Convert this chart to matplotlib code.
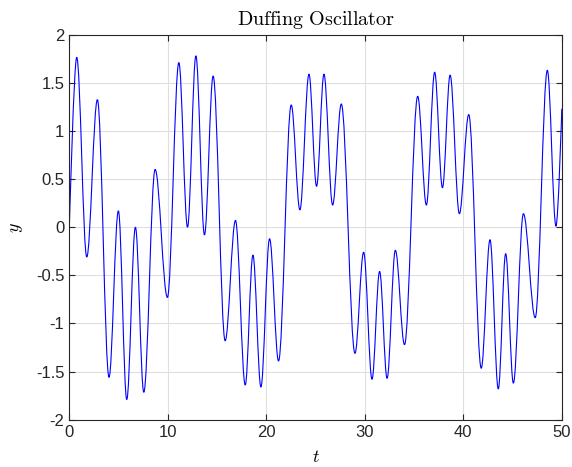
import numpy as np
import matplotlib
matplotlib.use("Agg")
import matplotlib.pyplot as plt
from matplotlib.path import Path
from matplotlib.patches import PathPatch

# ------------------- DATA (turning points) -------------------

t_pts = [0.0, 0.75, 1.77, 2.85, 4.03, 4.98, 5.83, 6.71, 7.56, 8.71,
         9.96, 11.12, 12.0, 12.85, 13.72, 14.6, 15.82, 16.87, 17.86, 18.64,
         19.45, 20.33, 21.24, 22.53, 23.41, 24.33, 25.1, 25.85, 26.73, 27.61,
         29.0, 29.88, 30.73, 31.5, 32.26, 33.1, 34.03, 35.37, 36.25, 37.09,
         37.88, 38.66, 39.6, 40.55, 41.82, 42.71, 43.55, 44.3, 45.08, 46.1,
         47.3, 48.53, 49.41, 50.0]
y_pts = [0.0, 1.765, -0.31, 1.325, -1.56, 0.17, -1.79, 0.0, -1.715, 0.6,
         -0.73, 1.71, 0.0, 1.78, -0.08, 1.57, -1.18, 0.07, -1.64, -0.29,
         -1.66, -0.12, -1.39, 1.27, 0.18, 1.59, 0.425, 1.59, 0.23, 1.28,
         -1.31, -0.26, -1.58, -0.46, -1.57, -0.24, -1.22, 1.36, 0.23, 1.61,
         0.41, 1.58, 0.14, 1.17, -1.465, -0.13, -1.68, -0.275, -1.62, 0.14,
         -0.94, 1.63, 0.01, 1.23]

x_ticks = [0, 10, 20, 30, 40, 50]
y_ticks = [-2, -1.5, -1, -0.5, 0, 0.5, 1, 1.5, 2]
y_tick_labels = ["-2", "-1.5", "-1", "-0.5", "0", "0.5", "1", "1.5", "2"]

# ------------------- STYLE -------------------

K = 0.36  # bezier handle length, fraction of segment width
AX_COLOR = "#262626"
GRID_COLOR = "#dfdfdf"


def curve_path(t, y):
  # smooth path through the turning points, flat tangent at each extremum
  n = len(t)
  verts = [(t[0], y[0])]
  codes = [Path.MOVETO]
  for i in range(n - 1):
    dt = t[i+1] - t[i]
    if i == 0:
      c1 = (t[i], y[i])
    else:
      c1 = (t[i] + K*dt, y[i])
    if i + 1 == n - 1:
      c2 = (t[i+1], y[i+1])
    else:
      c2 = (t[i+1] - K*dt, y[i+1])
    verts += [c1, c2, (t[i+1], y[i+1])]
    codes += [Path.CURVE4, Path.CURVE4, Path.CURVE4]
  return Path(verts, codes)


def main():
  plt.rcParams["font.family"] = ["Liberation Sans", "DejaVu Sans"]
  plt.rcParams["mathtext.fontset"] = "cm"
  plt.rcParams["axes.unicode_minus"] = False

  fig = plt.figure(figsize=(5.72, 4.67), dpi=100)
  ax = fig.add_axes([0.1212, 0.1013, 0.861, 0.8244])

  patch = PathPatch(curve_path(t_pts, y_pts), facecolor="none",
                    edgecolor=(0, 0, 1), linewidth=0.8)
  ax.add_patch(patch)

  ax.set_xlim(0, 50)
  ax.set_ylim(-2, 2)
  ax.set_xticks(x_ticks)
  ax.set_yticks(y_ticks)
  ax.set_yticklabels(y_tick_labels)

  ax.grid(True, color=GRID_COLOR, linewidth=0.8)
  ax.set_axisbelow(True)
  for s in ax.spines.values():
    s.set_color(AX_COLOR)
    s.set_linewidth(0.8)
  ax.tick_params(direction="in", top=True, right=True, length=4,
                 color=AX_COLOR, labelcolor=AX_COLOR, labelsize=12, width=0.8)

  ax.set_title(r"$\mathrm{Duffing\ Oscillator}$", fontsize=14.5, color="k", pad=7)
  # reference crops the t at the bottom edge, keep it just inside here
  ax.set_xlabel(r"$t$", fontsize=13, labelpad=7)
  ax.set_ylabel(r"$y$", fontsize=13, labelpad=8)

  fig.savefig("out.png", dpi=100)


if __name__ == "__main__":
  main()
